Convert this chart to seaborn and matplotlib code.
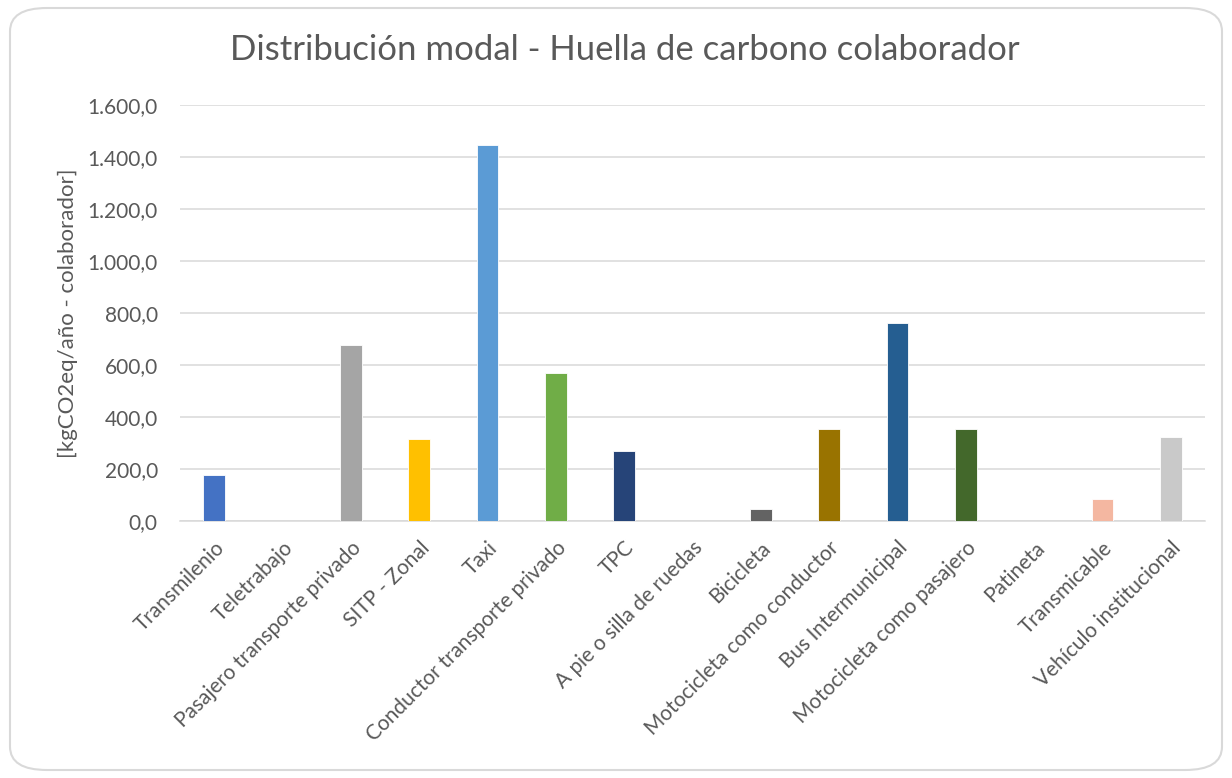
import pandas as pd
import matplotlib.pyplot as plt
import seaborn as sns
from matplotlib.patches import FancyBboxPatch
from matplotlib.ticker import FuncFormatter

modos = ['Transmilenio', 'Teletrabajo', 'Pasajero transporte privado', 'SITP - Zonal',
         'Taxi', 'Conductor transporte privado', 'TPC', 'A pie o silla de ruedas',
         'Bicicleta', 'Motocicleta como conductor', 'Bus Intermunicipal',
         'Motocicleta como pasajero', 'Patineta', 'Transmicable', 'Vehículo institucional']
huella = [178, 0, 678, 317, 1448, 571, 271, 0, 46, 354, 763, 354, 0, 85, 325]
colores = ['#4472C4', '#ED7D31', '#A5A5A5', '#FFC000', '#5B9BD5', '#70AD47', '#264478',
           '#9E480E', '#636363', '#997300', '#255E91', '#43682B', '#698ED0', '#F4B7A1',
           '#C9C9C9']

df = pd.DataFrame({'modo': modos, 'huella': huella})

sns.set_theme(style='white')
plt.rcParams['font.family'] = ['Lato', 'DejaVu Sans']
gris = '#595959'

fig = plt.figure(figsize=(12.32, 7.78), dpi=100)
ax = fig.add_axes([180 / 1232, 1 - 521 / 778, 1025 / 1232, 416 / 778])

# marco redondeado tipo Excel
marco = FancyBboxPatch((10 / 1232, 8 / 778), 1212 / 1232, 762 / 778,
                       boxstyle='round,pad=0,rounding_size=0.03',
                       transform=fig.transFigure, facecolor='white',
                       edgecolor='#D9D9D9', linewidth=1.5, zorder=-10)
fig.patches.append(marco)

sns.barplot(data=df, x='modo', y='huella', hue='modo', palette=colores,
            legend=False, width=0.32, saturation=1, ax=ax, edgecolor='white',
            linewidth=0.6, zorder=3)

ax.set_ylim(0, 1600)
ax.set_xlim(-0.5, len(modos) - 0.5)
ax.set_yticks(range(0, 1601, 200))
ax.yaxis.set_major_formatter(FuncFormatter(
    lambda v, p: f'{v:,.1f}'.replace(',', 'X').replace('.', ',').replace('X', '.')))
ax.yaxis.grid(True, color='#D9D9D9', linewidth=1.1, zorder=0)
ax.set_axisbelow(True)
for s in ['left', 'right', 'top']:
    ax.spines[s].set_visible(False)
ax.spines['bottom'].set_color('#D9D9D9')
ax.spines['bottom'].set_linewidth(1.1)
ax.tick_params(axis='y', colors=gris, labelsize=15, length=0, pad=16)
ax.tick_params(axis='x', colors=gris, labelsize=15, length=0, pad=12)
plt.setp(ax.get_xticklabels(), rotation=45, ha='right', rotation_mode='anchor')

ax.set_xlabel('')
ax.set_ylabel('[kgCO2eq/año - colaborador]', color=gris, fontsize=16, labelpad=7)
fig.text(625 / 1232, 1 - 50 / 778, 'Distribución modal - Huella de carbono colaborador',
         ha='center', va='center', fontsize=25, color=gris)

fig.savefig('out.png', dpi=100)
